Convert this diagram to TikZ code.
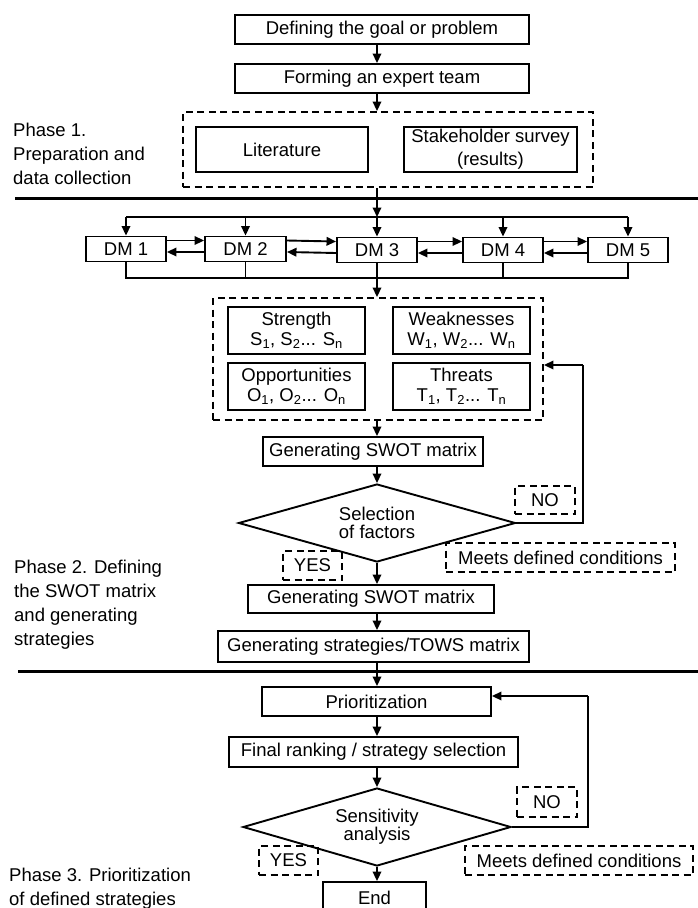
\documentclass[tikz,border=0pt]{standalone}
\usepackage{fontspec}
\setmainfont{Liberation Sans}
\usetikzlibrary{arrows.meta,shapes.geometric}
\tikzset{
  bx/.style={draw, line width=1.9pt, inner sep=0pt, align=center, font=\fontsize{18.5}{23}\selectfont},
  dbx/.style={bx, dash pattern=on 7pt off 4.5pt},
  arr/.style={line width=1.9pt, -{Triangle[length=9.5pt,width=8.5pt]}},
  ln/.style={line width=1.9pt},
  phaseline/.style={line width=3pt},
  lbl/.style={anchor=north west, inner sep=0pt, align=left, font=\fontsize{18.5}{24}\selectfont},
  dia/.style={draw, line width=1.9pt, shape=diamond, aspect=3.5, inner sep=0pt, align=center, font=\fontsize{18.5}{18}\selectfont},
}
\begin{document}
\begin{tikzpicture}[x=1pt,y=-1pt]
\clip (0,0) rectangle (698,908);
\coordinate (ax) at (377,0);
% Phase 1
\node[bx, minimum width=294pt, minimum height=29pt] (g1) at (382,29.5) {Defining the goal or problem};
\node[bx, minimum width=294pt, minimum height=29pt] (g2) at (382,78.5) {Forming an expert team};
\node[dbx, minimum width=410pt, minimum height=75pt] (p1) at (388,149.5) {};
\node[bx, minimum width=172pt, minimum height=45pt] (lit) at (282,149.5) {Literature};
\node[bx, minimum width=173pt, minimum height=45pt] (stake) at (490.5,149.5) {Stakeholder survey\\(results)};
\node[lbl] (ph1) at (13,123) {Phase 1.\\Preparation and\\data collection};
\draw[arr] (g1.south -| ax) -- (g2.north -| ax);
\draw[arr] (g2.south -| ax) -- (p1.north -| ax);
\coordinate (l1a) at (15,198);
\coordinate (l1b) at (700,198);
\draw[phaseline] (l1a) -- (l1b);
% DMs
\node[bx, minimum width=80pt, minimum height=25pt] (dm1) at (126,249) {DM 1};
\node[bx, minimum width=81pt, minimum height=25pt] (dm2) at (245.5,249) {DM 2};
\node[bx, minimum width=80pt, minimum height=25pt] (dm3) at (377,250) {DM 3};
\node[bx, minimum width=80pt, minimum height=25pt] (dm4) at (503,250) {DM 4};
\node[bx, minimum width=80pt, minimum height=25pt] (dm5) at (628,250) {DM 5};
\coordinate (dl) at (126,217);
\coordinate (cl) at (126,278);
\draw[arr] (p1.south -| ax) -- (ax |- dl);
\draw[ln] (dm1.north |- dl) -- (dm5.north |- dl);
\foreach \d in {dm1,dm2,dm3,dm4,dm5}{\draw[arr] (\d.north |- dl) -- (\d.north);}
\draw[arr] ([yshift=8.5pt]dm1.east) -- ([yshift=8.5pt]dm2.west);
\draw[arr] ([yshift=-3pt]dm2.west) -- ([yshift=-3pt]dm1.east);
\draw[arr] ([yshift=8.5pt]dm2.east) -- ([yshift=8.5pt]dm3.west);
\draw[arr] ([yshift=-3pt]dm3.west) -- ([yshift=-3pt]dm2.east);
\draw[arr] ([yshift=8.5pt]dm3.east) -- ([yshift=8.5pt]dm4.west);
\draw[arr] ([yshift=-3pt]dm4.west) -- ([yshift=-3pt]dm3.east);
\draw[arr] ([yshift=8.5pt]dm4.east) -- ([yshift=8.5pt]dm5.west);
\draw[arr] ([yshift=-3pt]dm5.west) -- ([yshift=-3pt]dm4.east);
\draw[ln] (dm1.south) -- (dm1.south |- cl) -- (dm5.south |- cl) -- (dm5.south);
\draw[ln] (dm2.south) -- (dm2.south |- cl);
\draw[ln] (dm4.south) -- (dm4.south |- cl);
% SWOT
\node[dbx, minimum width=330pt, minimum height=122pt] (swot) at (378,359) {};
\node[bx, font=\fontsize{18.5}{20}\selectfont, minimum width=137pt, minimum height=47pt] (str) at (296.5,330.5) {Strength\\S\textsubscript{1}, S\textsubscript{2}... S\textsubscript{n}};
\node[bx, font=\fontsize{18.5}{20}\selectfont, minimum width=137pt, minimum height=47pt] (wea) at (461.5,330.5) {Weaknesses\\W\textsubscript{1}, W\textsubscript{2}... W\textsubscript{n}};
\node[bx, font=\fontsize{18.5}{20}\selectfont, minimum width=137pt, minimum height=47pt] (opp) at (296.5,386.5) {Opportunities\\O\textsubscript{1}, O\textsubscript{2}... O\textsubscript{n}};
\node[bx, font=\fontsize{18.5}{20}\selectfont, minimum width=137pt, minimum height=47pt] (thr) at (461.5,386.5) {Threats\\T\textsubscript{1}, T\textsubscript{2}... T\textsubscript{n}};
\draw[arr] (dm3.south) -- (dm3.south |- swot.north);
\node[bx, minimum width=220pt, minimum height=29pt] (gen1) at (373,451.5) {Generating SWOT matrix};
\draw[arr] (swot.south -| ax) -- (gen1.north -| ax);
\node[dia, minimum width=277pt, minimum height=78pt] (dia1) at (377,523) {Selection\\of factors};
\draw[arr] (gen1.south -| ax) -- (dia1.north);
\node[dbx, minimum width=60pt, minimum height=28pt] (no1) at (545,500) {NO};
\node[dbx, minimum width=229pt, minimum height=29pt] (meet1) at (560.5,557.5) {Meets defined conditions};
\node[dbx, minimum width=59pt, minimum height=29pt] (yes1) at (312.5,565.5) {YES};
\coordinate (fb1) at (583,365);
\draw[ln] (dia1.east) -| (fb1);
\draw[arr] (fb1) -- (swot.east |- fb1);
\node[bx, minimum width=246pt, minimum height=28pt] (gen2) at (371,599) {Generating SWOT matrix};
\draw[arr] (dia1.south) -- (gen2.north -| ax);
\node[bx, minimum width=311pt, minimum height=31pt] (tows) at (373.5,646.5) {Generating strategies/TOWS matrix};
\draw[arr] (gen2.south -| ax) -- (tows.north -| ax);
\node[lbl] (ph2) at (14,560) {Phase 2. Defining\\the SWOT matrix\\and generating\\strategies};
\coordinate (l2a) at (18,671);
\coordinate (l2b) at (700,671);
\draw[phaseline] (l2a) -- (l2b);
% Phase 3
\node[bx, minimum width=229pt, minimum height=29pt] (prio) at (376.5,701.5) {Prioritization};
\draw[arr] (tows.south -| ax) -- (prio.north -| ax);
\node[bx, minimum width=289pt, minimum height=30pt] (fin) at (373.5,752) {Final ranking / strategy selection};
\draw[arr] (prio.south -| ax) -- (fin.north -| ax);
\node[dia, minimum width=268pt, minimum height=78pt] (dia2) at (377,827) {Sensitivity\\analysis};
\draw[arr] (fin.south -| ax) -- (dia2.north);
\node[dbx, minimum width=60pt, minimum height=30pt] (no2) at (547,802) {NO};
\node[dbx, minimum width=228pt, minimum height=29pt] (meet2) at (579,860.5) {Meets defined conditions};
\node[dbx, minimum width=59pt, minimum height=29pt] (yes2) at (288.5,860.5) {YES};
\coordinate (fb2) at (588,696);
\draw[ln] (dia2.east) -| (fb2);
\draw[arr] (fb2) -- (prio.east |- fb2);
\node[bx, minimum width=103pt, minimum height=32pt] (endn) at (374.5,898) {End};
\draw[arr] (dia2.south) -- (endn.north -| ax);
\node[lbl] (ph3) at (9,868) {Phase 3. Prioritization\\of defined strategies};
\end{tikzpicture}
\end{document}
